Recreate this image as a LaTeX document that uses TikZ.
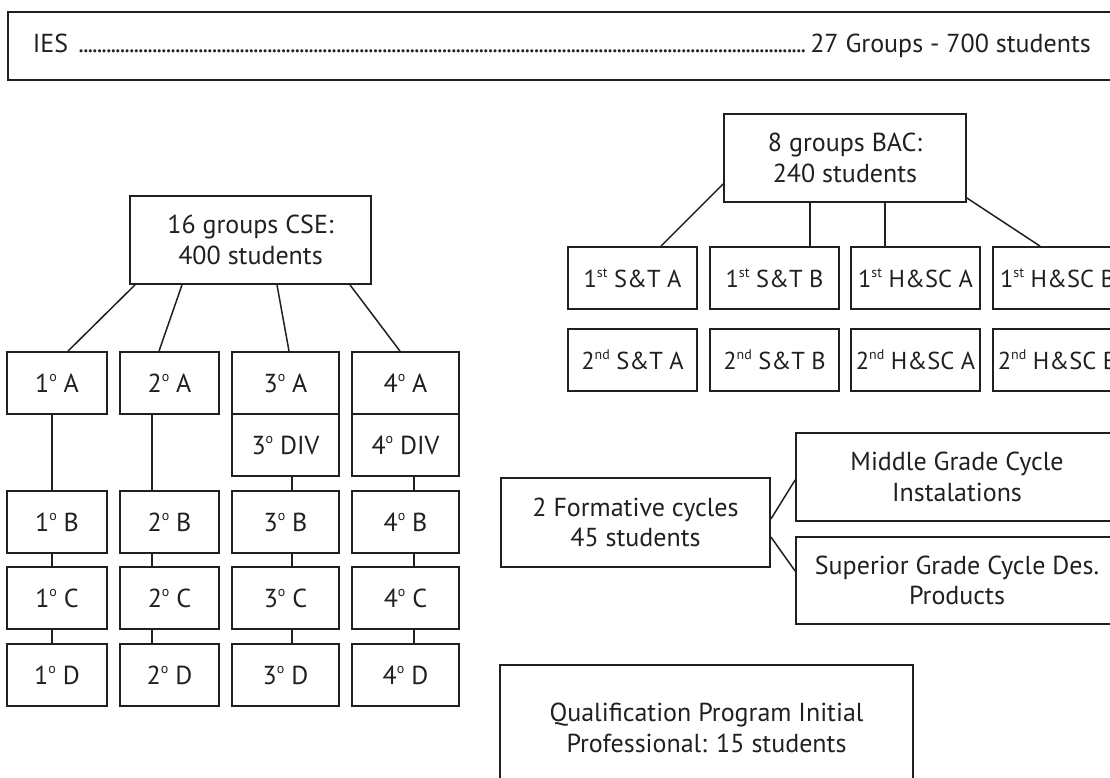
\documentclass[tikz,border=0pt]{standalone}
\usepackage{fontspec}
\setmainfont{PT Sans}
\usepackage{tikz}

\definecolor{ink}{HTML}{231F20}
\tikzset{
    grp/.style={draw=ink,text=ink,line width=1.8pt,inner sep=0pt,align=center,
        font=\fontsize{26}{30.5}\selectfont},
    course/.style={grp,minimum width=129pt,minimum height=62pt,font=\fontsize{24.5}{28}\selectfont},
    link/.style={draw=ink,line width=1.5pt}
}
\newcommand{\supr}[1]{\raisebox{0.42em}{\fontsize{14}{14}\selectfont #1}}
\newcommand{\ord}{\supr{o}}

\begin{document}
\begin{tikzpicture}[x=1pt,y=-1pt]
    \useasboundingbox (0,0) rectangle (1110,778);
    \clip (0,0) rectangle (1110,778);
    % whole school
    \node[grp,anchor=west,minimum width=1108pt,minimum height=68pt] (ies) at (7,46)
        {\hbox to 1058pt{IES\ \leaders\hbox to 4.6pt{\hss.\hss}\hfill27 Groups - 700 students}};
    % CSE
    \node[grp,minimum width=241pt,minimum height=88pt] (cse) at (250.5,240) {16 groups CSE:\\400 students};
    \node[grp,minimum width=100pt,minimum height=62pt] (a1) at (57,383) {1\ord{} A};
    \node[grp,minimum width=99pt,minimum height=62pt] (a2) at (169.5,383) {2\ord{} A};
    \node[grp,minimum width=107pt,minimum height=62pt] (a3) at (285.5,383) {3\ord{} A};
    \node[grp,minimum width=107pt,minimum height=62pt] (a4) at (405.5,383) {4\ord{} A};
    \node[grp,minimum width=107pt,minimum height=62pt] (div3) at (285.5,445) {3\ord{} DIV};
    \node[grp,minimum width=107pt,minimum height=62pt] (div4) at (405.5,445) {4\ord{} DIV};
    \node[grp,minimum width=100pt,minimum height=62pt] (b1) at (57,522) {1\ord{} B};
    \node[grp,minimum width=99pt,minimum height=62pt] (b2) at (169.5,522) {2\ord{} B};
    \node[grp,minimum width=107pt,minimum height=62pt] (b3) at (285.5,522) {3\ord{} B};
    \node[grp,minimum width=107pt,minimum height=62pt] (b4) at (405.5,522) {4\ord{} B};
    \node[grp,minimum width=100pt,minimum height=62pt] (c1) at (57,598) {1\ord{} C};
    \node[grp,minimum width=99pt,minimum height=62pt] (c2) at (169.5,598) {2\ord{} C};
    \node[grp,minimum width=107pt,minimum height=62pt] (c3) at (285.5,598) {3\ord{} C};
    \node[grp,minimum width=107pt,minimum height=62pt] (c4) at (405.5,598) {4\ord{} C};
    \node[grp,minimum width=100pt,minimum height=62pt] (d1) at (57,675) {1\ord{} D};
    \node[grp,minimum width=99pt,minimum height=62pt] (d2) at (169.5,675) {2\ord{} D};
    \node[grp,minimum width=107pt,minimum height=62pt] (d3) at (285.5,675) {3\ord{} D};
    \node[grp,minimum width=107pt,minimum height=62pt] (d4) at (405.5,675) {4\ord{} D};
    \draw[link] ([xshift=-115.5pt]cse.south) -- ([xshift=11pt]a1.north);
    \draw[link] ([xshift=-68.5pt]cse.south) -- ([xshift=-10.5pt]a2.north);
    \draw[link] ([xshift=26.5pt]cse.south) -- ([xshift=3.5pt]a3.north);
    \draw[link] ([xshift=99.5pt]cse.south) -- ([xshift=-5.5pt]a4.north);
    \draw[link] ([xshift=-5pt]a1.south) -- ([xshift=-5pt]b1.north);
    \draw[link] ([xshift=-5pt]b1.south) -- ([xshift=-5pt]c1.north);
    \draw[link] ([xshift=-5pt]c1.south) -- ([xshift=-5pt]d1.north);
    \draw[link] ([xshift=-17.5pt]a2.south) -- ([xshift=-17.5pt]b2.north);
    \draw[link] ([xshift=-17.5pt]b2.south) -- ([xshift=-17.5pt]c2.north);
    \draw[link] ([xshift=-17.5pt]c2.south) -- ([xshift=-17.5pt]d2.north);
    \draw[link] ([xshift=6.5pt]div3.south) -- ([xshift=6.5pt]b3.north);
    \draw[link] ([xshift=6.5pt]b3.south) -- ([xshift=6.5pt]c3.north);
    \draw[link] ([xshift=6.5pt]c3.south) -- ([xshift=6.5pt]d3.north);
    \draw[link] ([xshift=8.5pt]div4.south) -- ([xshift=8.5pt]b4.north);
    \draw[link] ([xshift=8.5pt]b4.south) -- ([xshift=8.5pt]c4.north);
    \draw[link] ([xshift=8.5pt]c4.south) -- ([xshift=8.5pt]d4.north);
    % BAC
    \node[grp,minimum width=242pt,minimum height=88pt] (bac) at (845,158) {8 groups BAC:\\240 students};
    \node[course] (st1a) at (632.5,278) {1\supr{st} S\&T A};
    \node[course] (st1b) at (774.5,278) {1\supr{st} S\&T B};
    \node[course] (hs1a) at (915.5,278) {1\supr{st} H\&SC A};
    \node[course] (hs1b) at (1057.5,278) {1\supr{st} H\&SC B};
    \node[course] (st2a) at (632.5,360) {2\supr{nd} S\&T A};
    \node[course] (st2b) at (774.5,360) {2\supr{nd} S\&T B};
    \node[course] (hs2a) at (915.5,360) {2\supr{nd} H\&SC A};
    \node[course] (hs2b) at (1057.5,360) {2\supr{nd} H\&SC B};
    \draw[link] ([yshift=-26pt]bac.west) -- ([xshift=28.5pt]st1a.north);
    \draw[link] ([xshift=-35pt]bac.south) -- ([xshift=35.5pt]st1b.north);
    \draw[link] ([xshift=40pt]bac.south) -- ([xshift=-30.5pt]hs1a.north);
    \draw[link] ([yshift=-40pt]bac.east) -- ([xshift=-17.5pt]hs1b.north);
    % formative cycles
    \node[grp,minimum width=269pt,minimum height=89pt] (fc) at (635.5,522.5) {2 Formative cycles\\45 students};
    \node[grp,minimum width=322pt,minimum height=88pt] (mgc) at (957,477) {Middle Grade Cycle\\Instalations};
    \node[grp,minimum width=322pt,minimum height=87pt] (sgc) at (957,580.5) {Superior Grade Cycle Des.\\Products};
    \draw[link] ([yshift=3.5pt]fc.east) -- ([yshift=-3pt]mgc.west);
    \draw[link] ([yshift=-14.5pt]fc.east) -- ([yshift=9.5pt]sgc.west);
    % initial professional
    \node[grp,minimum width=413pt,minimum height=126pt] (pcpi) at (706.5,728) {Qualification Program Initial\\Professional: 15 students};
\end{tikzpicture}
\end{document}
